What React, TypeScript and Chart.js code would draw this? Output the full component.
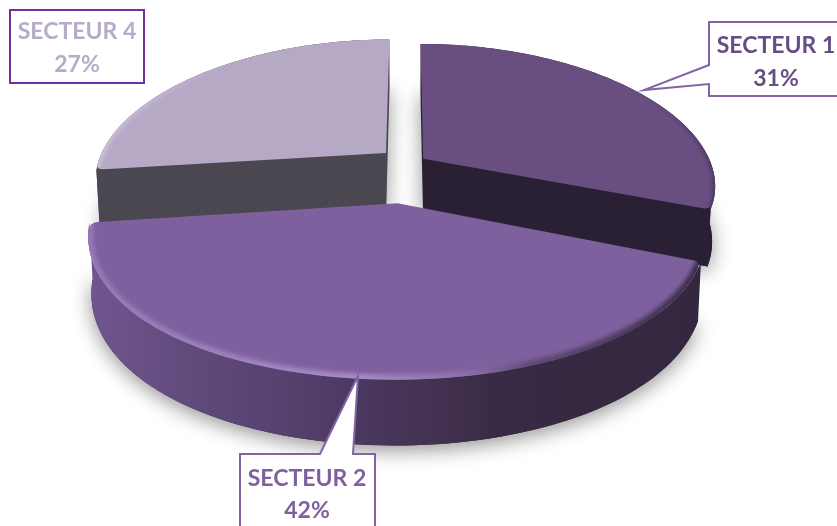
import React, { useEffect, useRef } from "react";
import { Chart, registerables } from "chart.js";

Chart.register(...registerables);

const categories = ["SECTEUR 1", "SECTEUR 2", "SECTEUR 4"];
const shares = [31, 42, 27];
const topColors = ["#684E81", "#7F609E", "#B6A9C5"];
const labelColors = ["#664E85", "#7F609E", "#B8ABC9"];
const faceColors = ["#2A2033", "#33283F", "#4B4750"];
const explosion = [16, 58, 23];

const VIEW = { cx: 407, cy: 167.6, R: 288, k: 0.485, D: 2000, Dx: 1480, h: 54 };
const sliceTilt = [0.95, 1, 0.947];
const sliceLift = [-3.8, 0, -6];
const roundStart = [false, true, true];
const roundEnd = [true, true, false];

type Pt = { x: number; y: number };

function project(u: number, v: number, z: number, i: number): Pt {
  const s = 1 / (1 - v / VIEW.D);
  const sx = 1 / (1 - v / VIEW.Dx);
  const xs = z > 0 ? 0.99 : 1;
  return {
    x: VIEW.cx + u * sx * xs,
    y: VIEW.cy + sliceLift[i] + VIEW.k * sliceTilt[i] * v * s + z * s,
  };
}

function polyPath(ctx: CanvasRenderingContext2D, pts: Pt[]) {
  ctx.beginPath();
  pts.forEach((p, i) => (i ? ctx.lineTo(p.x, p.y) : ctx.moveTo(p.x, p.y)));
  ctx.closePath();
}

function topPath(ctx: CanvasRenderingContext2D, apex: Pt, rim: Pt[], rs: boolean, re: boolean) {
  const n = 2;
  const last = rim.length - 1;
  const toward = (a: Pt, b: Pt, d: number) => {
    const l = Math.hypot(b.x - a.x, b.y - a.y) || 1;
    return { x: a.x + ((b.x - a.x) * d) / l, y: a.y + ((b.y - a.y) * d) / l };
  };
  ctx.beginPath();
  ctx.moveTo(apex.x, apex.y);
  if (rs) {
    const a1 = toward(rim[0], apex, 8);
    ctx.lineTo(a1.x, a1.y);
    ctx.quadraticCurveTo(rim[0].x, rim[0].y, rim[n].x, rim[n].y);
  } else {
    ctx.lineTo(rim[0].x, rim[0].y);
  }
  for (let i = rs ? n + 1 : 1; i <= (re ? last - n : last); i++) ctx.lineTo(rim[i].x, rim[i].y);
  if (re) {
    const a2 = toward(rim[last], apex, 8);
    ctx.quadraticCurveTo(rim[last].x, rim[last].y, a2.x, a2.y);
  }
  ctx.closePath();
}

const pie3d = {
  id: "pie3d",
  beforeDatasetsDraw(chart: any) {
    const ctx: CanvasRenderingContext2D = chart.ctx;
    const arcs = chart.getDatasetMeta(0).data;
    const order = [2, 0, 1];
    order.forEach((i) => {
      const arc = arcs[i];
      const f = VIEW.R / arc.outerRadius;
      const a0 = arc.startAngle;
      const a1 = arc.endAngle;
      const mid = (a0 + a1) / 2;
      const e = arc.options.offset * f;
      const ou = Math.cos(mid) * e;
      const ov = Math.sin(mid) * e;
      const steps = 90;
      const rimAt = (z: number) => {
        const out: Pt[] = [];
        for (let j = 0; j <= steps; j++) {
          const a = a0 + ((a1 - a0) * j) / steps;
          out.push(project(ou + VIEW.R * Math.cos(a), ov + VIEW.R * Math.sin(a), z, i));
        }
        return out;
      };
      const top = rimAt(0);
      const base = rimAt(VIEW.h);
      const apexT = project(ou, ov, 0, i);
      const apexB = project(ou, ov, VIEW.h, i);

      // soft shadow of the base
      ctx.save();
      ctx.shadowColor = "rgba(0,0,0,0.42)";
      ctx.shadowBlur = 20;
      ctx.shadowOffsetY = 5;
      ctx.fillStyle = faceColors[i];
      polyPath(ctx, [apexB, ...base]);
      ctx.fill();
      ctx.restore();

      // outer wall
      let wall: any = faceColors[i];
      if (i === 1) {
        const g = ctx.createLinearGradient(90, 0, 700, 0);
        g.addColorStop(0, "#70558F");
        g.addColorStop(0.17, "#604A7B");
        g.addColorStop(0.33, "#55406E");
        g.addColorStop(0.44, "#4B3860");
        g.addColorStop(0.56, "#433251");
        g.addColorStop(0.68, "#372A44");
        g.addColorStop(1, "#33283F");
        wall = g;
      }
      ctx.fillStyle = wall;
      polyPath(ctx, [...top, ...base.slice().reverse()]);
      ctx.fill();

      // cut faces turned towards the viewer
      const face = (a: number, normal: number) => {
        if (normal <= 1e-6) return;
        const rt = project(ou + VIEW.R * Math.cos(a), ov + VIEW.R * Math.sin(a), 0, i);
        const rb = project(ou + VIEW.R * Math.cos(a), ov + VIEW.R * Math.sin(a), VIEW.h, i);
        ctx.fillStyle = faceColors[i];
        polyPath(ctx, [apexT, rt, rb, apexB]);
        ctx.fill();
      };
      face(a0, -Math.cos(a0));
      face(a1, Math.cos(a1));

      // top surface
      ctx.save();
      topPath(ctx, apexT, top, roundStart[i], roundEnd[i]);
      ctx.fillStyle = arc.options.backgroundColor;
      ctx.fill();
      ctx.clip();
      // bevelled rim
      ctx.filter = "blur(2px)";
      ctx.lineJoin = "round";
      ctx.beginPath();
      top.forEach((p, j) => (j ? ctx.lineTo(p.x, p.y) : ctx.moveTo(p.x, p.y)));
      if (i === 1) {
        const g = ctx.createLinearGradient(90, 0, 700, 0);
        g.addColorStop(0, "#9579B8");
        g.addColorStop(0.45, "#A58CC6");
        g.addColorStop(0.62, "#8C70AC");
        g.addColorStop(0.72, "#5E4B75");
        g.addColorStop(1, "#3A2D48");
        ctx.strokeStyle = g;
        ctx.lineWidth = 10;
      } else if (i === 0) {
        const g = ctx.createLinearGradient(650, 0, 716, 0);
        g.addColorStop(0, "rgba(50,38,64,0)");
        g.addColorStop(1, "rgba(50,38,64,0.9)");
        ctx.strokeStyle = g;
        ctx.lineWidth = 3;
      } else {
        const g = ctx.createLinearGradient(95, 0, 230, 0);
        g.addColorStop(0, "rgba(205,194,220,1)");
        g.addColorStop(1, "rgba(205,194,220,0)");
        ctx.strokeStyle = g;
        ctx.lineWidth = 6;
      }
      ctx.stroke();
      ctx.restore();
    });
    return false;
  },
  afterDraw(chart: any) {
    const ctx: CanvasRenderingContext2D = chart.ctx;
    const callouts = [
      { i: 0, box: [709, 22, 140, 74], tail: [[709, 65], [644, 90], [709, 84]], stroke: "#8264A5", tx: 776, ty: [46, 78.5] },
      { i: 1, box: [240, 454, 135, 90], tail: [[320, 454], [358, 376], [353, 454]], stroke: "#8264A5", tx: 307, ty: [478.5, 510.5] },
      { i: 2, box: [10, 10, 134, 73], tail: null, stroke: "#7030A0", tx: 77, ty: [31.5, 64.5] },
    ];
    ctx.save();
    callouts.forEach((c) => {
      const [x, y, w, h] = c.box;
      ctx.beginPath();
      ctx.rect(x, y, w, h);
      ctx.fillStyle = "#FFFFFF";
      ctx.strokeStyle = c.stroke;
      ctx.lineWidth = 2;
      if (c.tail) {
        const t = c.tail;
        ctx.beginPath();
        if (c.i === 0) {
          ctx.moveTo(x + w, y);
          ctx.lineTo(x, y);
          ctx.lineTo(t[0][0], t[0][1]);
          ctx.lineTo(t[1][0], t[1][1]);
          ctx.lineTo(t[2][0], t[2][1]);
          ctx.lineTo(x, y + h);
          ctx.lineTo(x + w, y + h);
        } else {
          ctx.moveTo(x, y + h);
          ctx.lineTo(x, y);
          ctx.lineTo(t[0][0], t[0][1]);
          ctx.lineTo(t[1][0], t[1][1]);
          ctx.lineTo(t[2][0], t[2][1]);
          ctx.lineTo(x + w, y);
          ctx.lineTo(x + w, y + h);
        }
        ctx.closePath();
      }
      ctx.fill();
      ctx.stroke();
      ctx.fillStyle = labelColors[c.i];
      ctx.font = "bold 23px Lato";
      ctx.textAlign = "center";
      ctx.textBaseline = "middle";
      ctx.fillText(categories[c.i], c.tx, c.ty[0]);
      ctx.fillText(`${shares[c.i]}%`, c.tx, c.ty[1]);
    });
    ctx.restore();
  },
};

export default function App() {
  const ref = useRef<HTMLCanvasElement>(null);
  useEffect(() => {
    document.body.style.margin = "0";
    const chart = new Chart(ref.current!, {
      type: "pie",
      data: {
        labels: categories,
        datasets: [{ data: shares, backgroundColor: topColors, borderWidth: 0, offset: explosion }],
      },
      options: {
        responsive: false,
        animation: false,
        events: [],
        layout: { padding: 0 },
        plugins: { legend: { display: false }, tooltip: { enabled: false } },
      },
      plugins: [pie3d],
    } as any);
    return () => chart.destroy();
  }, []);
  return <canvas ref={ref} width={837} height={526} style={{ display: "block" }} />;
}
